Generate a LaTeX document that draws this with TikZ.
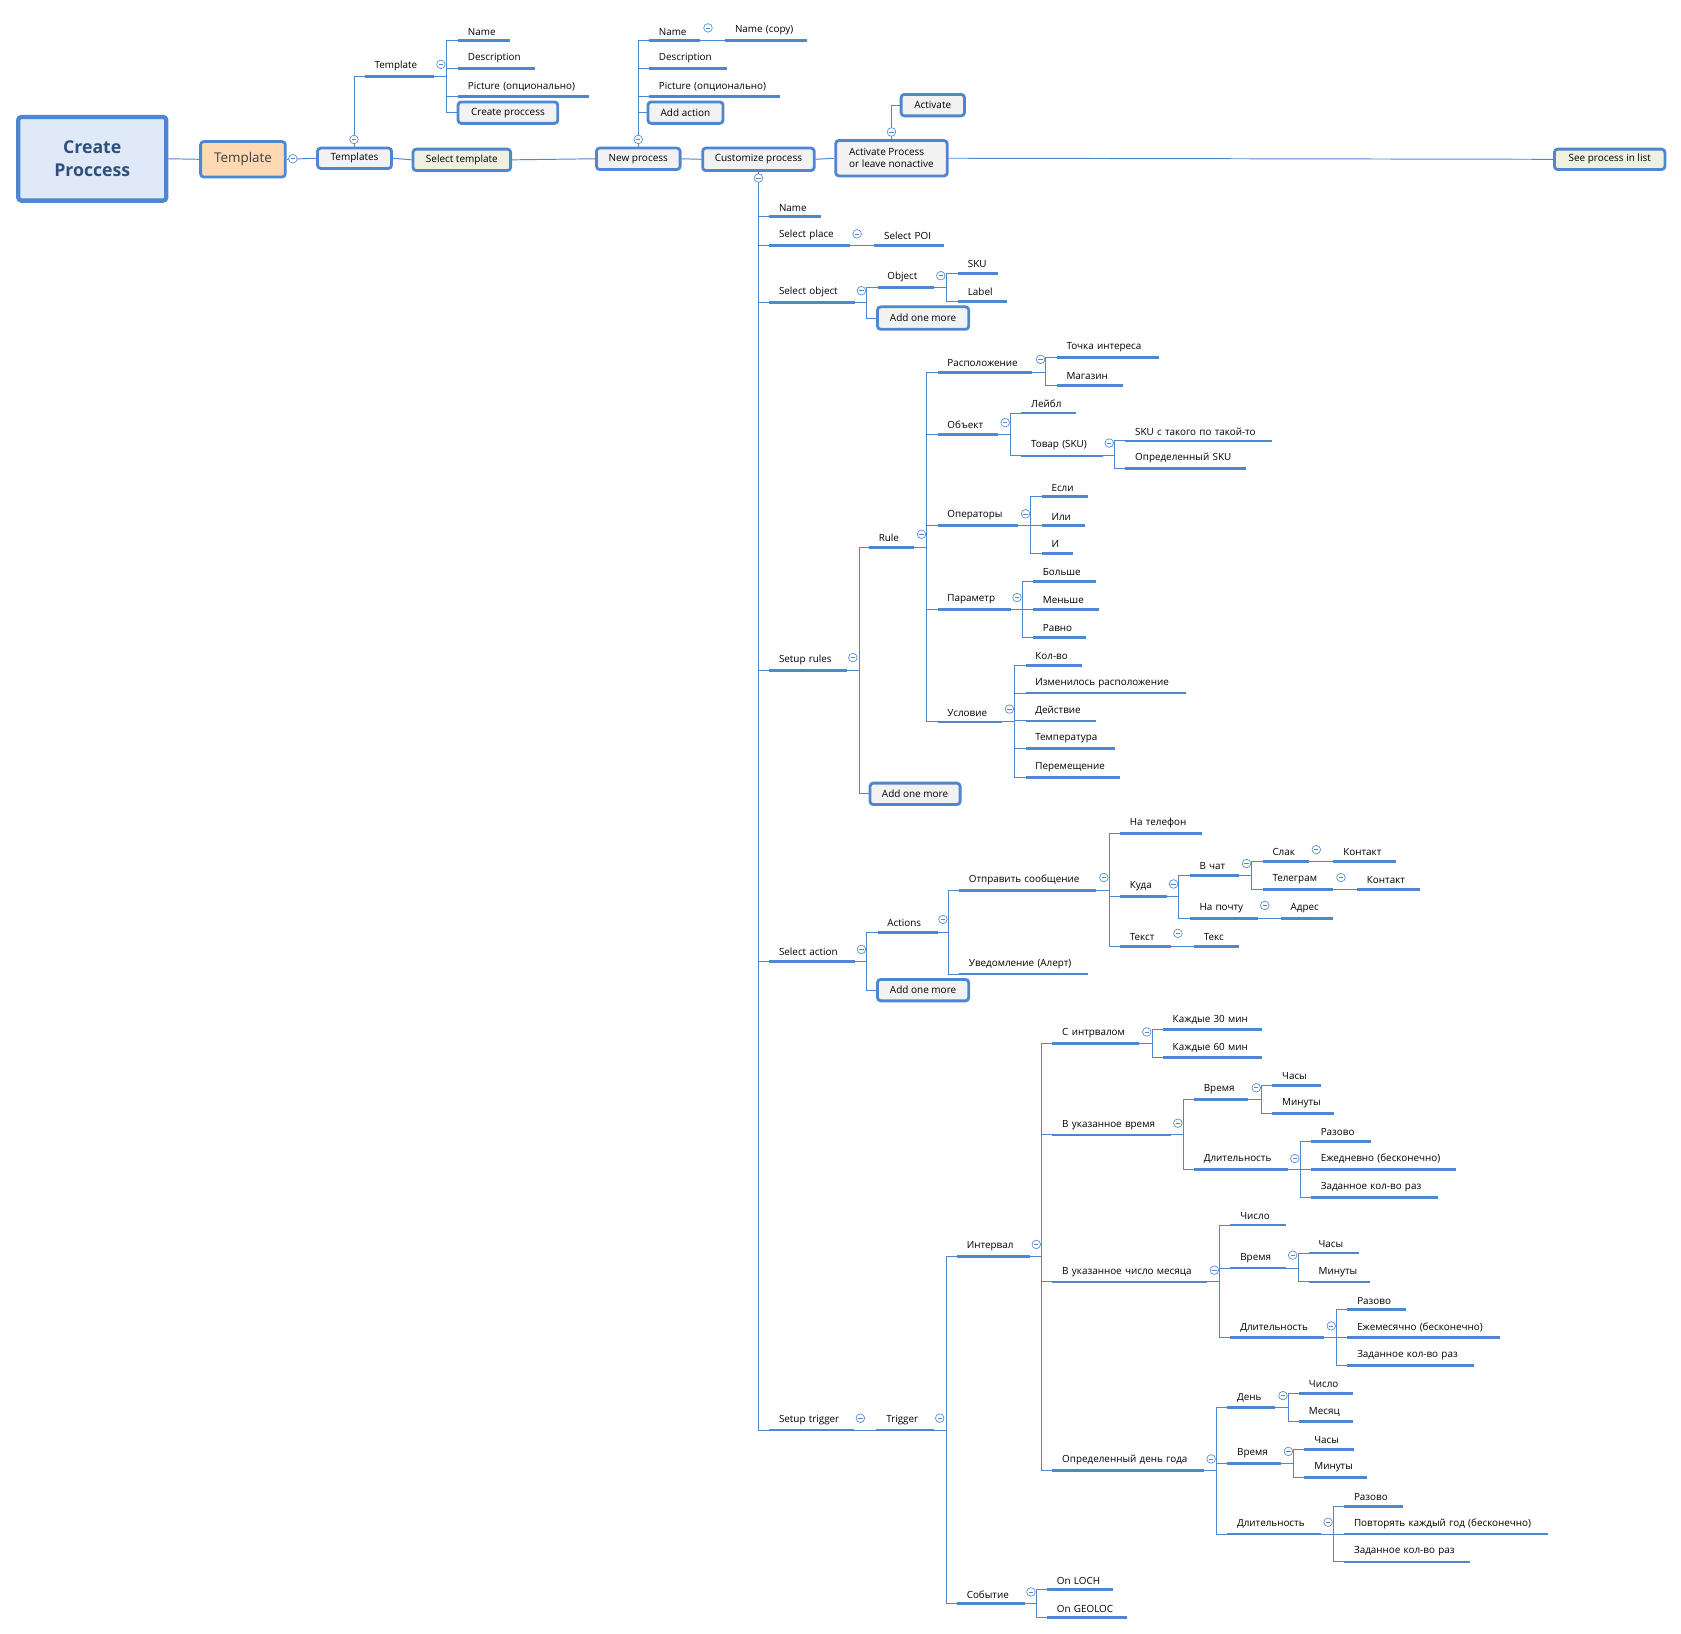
\documentclass[tikz,border=0pt]{standalone}
\usepackage{fontspec}
\setmainfont{Open Sans}
\definecolor{bl}{HTML}{4F86D0}
\definecolor{gbox}{HTML}{F2F2F2}
\definecolor{grbox}{HTML}{EEF1E0}
\tikzset{
 conn/.style={draw=bl,line width=0.9pt},
 uline/.style={draw=bl,line width=2.6pt},
 leaf/.style={anchor=south west,inner xsep=9pt,inner ysep=5pt,align=left,font=\fontsize{9.2}{11}\selectfont},
 box/.style={draw=bl,line width=2.6pt,rounded corners=3pt,fill=gbox,font=\fontsize{9.3}{11}\selectfont,inner sep=0pt},
 ico/.style={draw=bl,line width=0.6pt,fill=white},
}
\newcommand\lf[5]{\pgfmathsetmacro\tw{#3-#2-18}\node[leaf,text width=\tw pt] (#1) at (#2,#4) {\mbox{#5}};
 \draw[uline] (#1.south west)--(#1.south east);}
\newcommand\ic[2]{\draw[ico] (#1,#2) circle (4pt); \draw[bl,line width=0.6pt] (#1-2,#2)--(#1+2,#2);}
\newcommand\br[3]{\path (#2,0) coordinate (spx);
 \foreach \c in {#3}{\draw[conn] (#1) -- (spx |- #1) |- (\c);}}
\begin{document}
\begin{tikzpicture}[x=1pt,y=-1pt]
\useasboundingbox (0,0) rectangle (1567,1523);
% main boxes
\node[box,fill=bl!18,line width=4pt,minimum width=138pt,minimum height=78pt,font=\fontsize{16.5}{22}\selectfont\bfseries,text=bl!60!black,align=center] (cp) at (86,148) {Create\\Proccess};
\node[box,fill=orange!30,minimum width=79pt,minimum height=33pt,font=\fontsize{12.5}{14}\selectfont,text=black!75] (tpl) at (226.5,148.5) {Template};
\node[box,minimum width=69pt,minimum height=19pt] (tpls) at (330.5,147.5) {Templates};
\node[box,fill=grbox,minimum width=91pt,minimum height=20pt] (seltpl) at (430.5,149) {Select template};
\node[box,minimum width=78pt,minimum height=20pt] (newp) at (595,148) {New process};
\node[box,minimum width=104pt,minimum height=21pt] (cust) at (707,148.5) {Customize process};
\node[box,minimum width=104pt,minimum height=33pt,align=left] (actp) at (831,147.5) {Activate Process\\or leave nonactive};
\node[box,minimum width=59pt,minimum height=20pt] (actv) at (869.5,98) {Activate};
\node[box,fill=grbox,minimum width=103pt,minimum height=19pt] (seep) at (1500.5,148.5) {See process in list};
\node[box,minimum width=93pt,minimum height=20pt] (crp) at (473.5,105) {Create proccess};
\node[box,minimum width=70pt,minimum height=20pt] (adda) at (639,105) {Add action};
\node[box,minimum width=85pt,minimum height=21pt] (aom1) at (860.5,296.5) {Add one more};
\node[box,minimum width=84pt,minimum height=20pt] (aom2) at (853,740) {Add one more};
\node[box,minimum width=85pt,minimum height=20pt] (aom3) at (860.5,923) {Add one more};
\draw[conn] (cp.east)--(tpl.west);
\draw[conn] (tpl.east)--(tpls.west);
\draw[conn] (tpls.east)--(seltpl.west);
\draw[conn] (seltpl.east)--(newp.west);
\draw[conn] (newp.east)--(cust.west);
\draw[conn] (cust.east)--(actp.west);
\draw[conn] (actp.east)--(seep.west);
\draw[conn] (actp.north) |- (actv.west);
% template branch
\lf{tmpl}{340}{404}{71}{Template}
\lf{tName}{427}{475}{38}{Name}
\lf{tDesc}{427}{498}{64}{Description}
\lf{tPic}{427}{549}{90}{Picture (опционально)}
\draw[conn] (tpls.north) |- (tmpl.south west);
\br{tmpl.south east}{416}{tName.south west,tDesc.south west,tPic.south west,crp.west}
% new process
\lf{nName}{605}{652}{38}{Name}
\lf{nCopy}{676}{752}{38}{Name (copy)}
\lf{nDesc}{605}{677}{64}{Description}
\lf{nPic}{605}{727}{90}{Picture (опционально)}
\foreach \c in {nName,nDesc,nPic}{\draw[conn] (newp.north) |- (\c.south west);}
\draw[conn] (newp.north) |- (adda.west);
\draw[conn] (nName.south east)--(nCopy.south west);
% customize
\lf{cName}{717}{765}{202}{Name}
\lf{cPlace}{717}{792}{229}{Select place}
\lf{cPOI}{815}{880}{229}{Select POI}
\lf{cObj}{717}{797}{282}{Select object}
\lf{oObj}{818}{870}{268}{Object}
\lf{oSKU}{893}{930}{255}{SKU}
\lf{oLab}{893}{938}{281}{Label}
\lf{cRules}{717}{789}{625}{Setup rules}
\lf{rRule}{810}{852}{510}{Rule}
\lf{cAct}{717}{797}{896}{Select action}
\lf{aAct}{818}{874}{869}{Actions}
\lf{cTrig}{717}{796}{1333}{Setup trigger}
\lf{tTrig}{817}{870}{1333}{Trigger}
\foreach \c in {cName,cPlace,cObj,cRules,cAct,cTrig}{\draw[conn] (cust.south) |- (\c.south west);}
\draw[conn] (cPlace.south east)--(cPOI.south west);
\br{cObj.south east}{808}{oObj.south west,aom1.west}
\br{oObj.south east}{882}{oSKU.south west,oLab.south west}
\br{cRules.south east}{801}{rRule.south west,aom2.west}
% rule children
\lf{r1}{874}{962}{347}{Расположение}
\lf{r11}{985}{1080}{333}{Точка интереса}
\lf{r12}{985}{1046}{359}{Магазин}
\lf{r2}{874}{930}{405}{Объект}
\lf{r21}{952}{1003}{385}{Лейбл}
\lf{r22}{952}{1028}{425}{Товар (SKU)}
\lf{r221}{1049}{1185}{411}{SKU с такого по такой-то}
\lf{r222}{1049}{1161}{437}{Определенный SKU}
\lf{r3}{874}{949}{490}{Операторы}
\lf{r31}{971}{1014}{463}{Если}
\lf{r32}{971}{1011}{490}{Или}
\lf{r33}{971}{1000}{516}{И}
\lf{r4}{874}{942}{568}{Параметр}
\lf{r41}{963}{1021}{542}{Больше}
\lf{r42}{963}{1024}{568}{Меньше}
\lf{r43}{963}{1012}{594}{Равно}
\lf{r5}{874}{934}{673}{Условие}
\lf{r51}{956}{1008}{620}{Кол-во}
\lf{r52}{956}{1105}{646}{Изменилось расположение}
\lf{r53}{956}{1021}{672}{Действие}
\lf{r54}{956}{1039}{698}{Температура}
\lf{r55}{956}{1044}{725}{Перемещение}
\br{rRule.south east}{864}{r1.south west,r2.south west,r3.south west,r4.south west,r5.south west}
\br{r1.south east}{975}{r11.south west,r12.south west}
\br{r2.south east}{942}{r21.south west,r22.south west}
\br{r22.south east}{1039}{r221.south west,r222.south west}
\br{r3.south east}{961}{r31.south west,r32.south west,r33.south west}
\br{r4.south east}{953}{r41.south west,r42.south west,r43.south west}
\br{r5.south east}{946}{r51.south west,r52.south west,r53.south west,r54.south west,r55.south west}
% actions
\br{cAct.south east}{808}{aAct.south west,aom3.west}
\lf{a1}{894}{1021}{830}{Отправить сообщение}
\lf{a2}{894}{1014}{908}{Уведомление (Алерт)}
\br{aAct.south east}{884}{a1.south west,a2.south west}
\lf{a11}{1044}{1120}{777}{На телефон}
\lf{a12}{1044}{1087}{836}{Куда}
\lf{a13}{1044}{1091}{882}{Текст}
\lf{a131}{1113}{1155}{882}{Текс}
\br{a1.south east}{1034}{a11.south west,a12.south west,a13.south west}
\draw[conn] (a13.south east)--(a131.south west);
\lf{a121}{1109}{1155}{816}{В чат}
\lf{a122}{1109}{1172}{856}{На почту}
\lf{a1221}{1194}{1242}{856}{Адрес}
\br{a12.south east}{1099}{a121.south west,a122.south west}
\draw[conn] (a122.south east)--(a1221.south west);
\lf{s1}{1177}{1220}{803}{Слак}
\lf{s11}{1243}{1301}{803}{Контакт}
\lf{s2}{1177}{1242}{829}{Телеграм}
\lf{s21}{1265}{1323}{829}{Контакт}
\br{a121.south east}{1167}{s1.south west,s2.south west}
\draw[conn] (s1.south east)--(s11.south west);
\draw[conn] (s2.south east)--(s21.south west);
% trigger
\draw[conn] (cTrig.south east)--(tTrig.south west);
\lf{g1}{892}{960}{1171}{Интервал}
\lf{g2}{892}{955}{1495}{Событие}
\br{tTrig.south east}{882}{g1.south west,g2.south west}
\lf{g21}{976}{1037}{1482}{On LOCH}
\lf{g22}{976}{1050}{1508}{On GEOLOC}
\br{g2.south east}{966}{g21.south west,g22.south west}
\lf{i1}{981}{1061}{973}{С интрвалом}
\lf{i2}{981}{1091}{1058}{В указанное время}
\lf{i3}{981}{1125}{1195}{В указанное число месяца}
\lf{i4}{981}{1122}{1371}{Определенный день года}
\br{g1.south east}{971}{i1.south west,i2.south west,i3.south west,i4.south west}
\lf{i11}{1084}{1176}{960}{Каждые 30 мин}
\lf{i12}{1084}{1176}{986}{Каждые 60 мин}
\br{i1.south east}{1074}{i11.south west,i12.south west}
\lf{i21}{1113}{1163}{1025}{Время}
\lf{i211}{1186}{1231}{1012}{Часы}
\lf{i212}{1186}{1243}{1038}{Минуты}
\lf{i22}{1113}{1200}{1090}{Длительность}
\lf{i221}{1222}{1278}{1064}{Разово}
\lf{i222}{1222}{1357}{1090}{Ежедневно (бесконечно)}
\lf{i223}{1222}{1340}{1116}{Заданное кол-во раз}
\br{i2.south east}{1103}{i21.south west,i22.south west}
\br{i21.south east}{1176}{i211.south west,i212.south west}
\br{i22.south east}{1212}{i221.south west,i222.south west,i223.south west}
\lf{i31}{1147}{1198}{1142}{Число}
\lf{i32}{1147}{1198}{1182}{Время}
\lf{i321}{1220}{1266}{1168}{Часы}
\lf{i322}{1220}{1277}{1195}{Минуты}
\lf{i33}{1147}{1234}{1247}{Длительность}
\lf{i331}{1256}{1310}{1221}{Разово}
\lf{i332}{1256}{1398}{1247}{Ежемесячно (бесконечно)}
\lf{i333}{1256}{1374}{1273}{Заданное кол-во раз}
\br{i3.south east}{1137}{i31.south west,i32.south west,i33.south west}
\br{i32.south east}{1210}{i321.south west,i322.south west}
\br{i33.south east}{1246}{i331.south west,i332.south west,i333.south west}
\lf{i41}{1144}{1188}{1312}{День}
\lf{i411}{1211}{1261}{1299}{Число}
\lf{i412}{1211}{1261}{1325}{Месяц}
\lf{i42}{1144}{1194}{1364}{Время}
\lf{i421}{1216}{1262}{1351}{Часы}
\lf{i422}{1216}{1274}{1377}{Минуты}
\lf{i43}{1144}{1231}{1430}{Длительность}
\lf{i431}{1253}{1307}{1404}{Разово}
\lf{i432}{1253}{1443}{1430}{Повторять каждый год (бесконечно)}
\lf{i433}{1253}{1370}{1456}{Заданное кол-во раз}
\br{i4.south east}{1134}{i41.south west,i42.south west,i43.south west}
\br{i41.south east}{1201}{i411.south west,i412.south west}
\br{i42.south east}{1206}{i421.south west,i422.south west}
\br{i43.south east}{1243}{i431.south west,i432.south west,i433.south west}
% collapse icons
\foreach \a/\b in {273/148,330/130,595/130,707/166,831/123,411/60,660/26,799/218,803/271,877/257,795/613,859/498,
 970/335,937/394,1034/413,956/479,948/557,941/661,803/885,879/857,1029/818,1094/824,1098/870,1162/805,1179/844,
 1227/792,1250/818,802/1322,876/1322,966/1160,961/1484,1069/962,1098/1047,1171/1014,1207/1080,1132/1184,1205/1170,
 1241/1236,1129/1360,1196/1301,1201/1353,1238/1419}{\ic{\a}{\b}}
\end{tikzpicture}
\end{document}
